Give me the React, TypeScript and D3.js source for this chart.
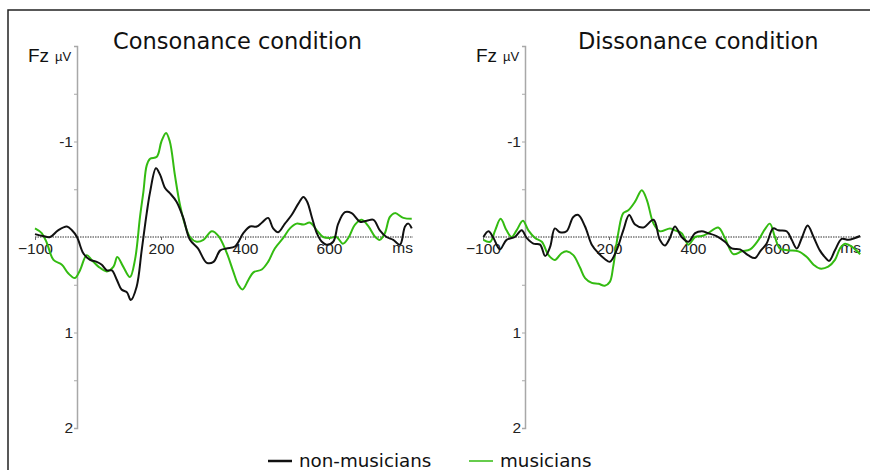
import { useEffect, useRef } from "react";
import * as d3 from "d3";

// [ms, µV] samples (negative up, as in ERP plots)
const consNonMusicians: [number, number][] = [
  [-100, -0.03], [-81, -0.01], [-64, 0], [-45, -0.07], [-24, -0.11], [-12, -0.07], [0, 0],
  [15, 0.17], [31, 0.24], [47, 0.26], [59, 0.29], [71, 0.35], [83, 0.35], [95, 0.45],
  [106, 0.55], [119, 0.58], [128, 0.66], [142, 0.52], [154, 0.14], [166, -0.25], [174, -0.47],
  [188, -0.72], [198, -0.65], [210, -0.51], [221, -0.46], [237, -0.37], [253, -0.2], [269, 0.03],
  [288, 0.12], [309, 0.27], [325, 0.26], [341, 0.14], [356, 0.12], [376, 0.1], [396, -0.04],
  [412, -0.11], [428, -0.11], [440, -0.15], [455, -0.2], [467, -0.09], [479, -0.05], [495, -0.14],
  [511, -0.23], [527, -0.35], [539, -0.42], [548, -0.37], [559, -0.21], [571, -0.04], [583, 0.05],
  [594, 0.08], [610, 0.05], [622, -0.14], [638, -0.26], [654, -0.25], [674, -0.16], [690, -0.17],
  [706, -0.18], [721, -0.07], [737, 0], [753, 0.03], [769, 0.08], [781, -0.11], [789, -0.14], [797, -0.09],
];

const consMusicians: [number, number][] = [
  [-100, -0.09], [-84, -0.04], [-72, 0.06], [-56, 0.24], [-36, 0.29], [-21, 0.38], [-5, 0.43],
  [7, 0.35], [23, 0.19], [35, 0.24], [51, 0.31], [71, 0.36], [87, 0.31], [96, 0.21], [110, 0.31],
  [126, 0.42], [138, 0.24], [150, -0.21], [158, -0.47], [166, -0.75], [174, -0.82], [190, -0.84],
  [201, -1.0], [212, -1.09], [221, -1.0], [233, -0.65], [245, -0.34], [257, -0.13], [269, 0],
  [285, 0.05], [301, 0.03], [321, -0.06], [337, -0.01], [356, 0.16], [372, 0.36], [384, 0.5],
  [394, 0.55], [408, 0.45], [420, 0.37], [440, 0.34], [455, 0.26], [471, 0.12], [491, 0.01],
  [507, -0.09], [523, -0.14], [539, -0.13], [555, -0.15], [571, -0.07], [586, 0], [602, 0.01],
  [618, 0], [633, 0.07], [646, 0.01], [662, -0.13], [678, -0.18], [694, -0.11], [710, 0],
  [721, 0.03], [733, -0.04], [745, -0.21], [757, -0.25], [777, -0.2], [797, -0.19],
];

const dissNonMusicians: [number, number][] = [
  [-99, 0], [-87, -0.06], [-75, 0.01], [-60, 0.13], [-44, 0.03], [-24, 0], [-8, -0.07], [4, 0.01],
  [20, 0.07], [36, 0.08], [48, 0.2], [60, 0.1], [71, -0.09], [83, -0.05], [99, -0.06], [115, -0.21],
  [127, -0.23], [143, -0.11], [159, 0.08], [175, 0.17], [190, 0.23], [202, 0.26], [218, 0.14],
  [234, -0.07], [248, -0.23], [262, -0.13], [282, -0.1], [306, -0.18], [321, 0.03], [333, 0.09],
  [345, 0.01], [357, -0.11], [373, 0], [389, 0.05], [405, -0.04], [421, -0.06], [436, -0.04],
  [456, -0.01], [476, 0.05], [492, 0.12], [512, 0.13], [531, 0.19], [548, 0.22], [560, 0.15],
  [575, 0.07], [591, -0.09], [603, -0.07], [623, -0.06], [635, 0.03], [647, 0.12], [659, 0.01],
  [673, -0.12], [687, 0], [702, 0.14], [714, 0.21], [724, 0.25], [738, 0.14], [754, 0.02],
  [770, 0.03], [786, 0.01], [798, -0.01],
];

const dissMusicians: [number, number][] = [
  [-99, 0.03], [-83, 0.05], [-71, -0.07], [-58, -0.19], [-44, -0.07], [-32, 0], [-20, -0.07],
  [-5, -0.17], [8, -0.07], [24, 0.01], [40, 0.05], [56, 0.19], [71, 0.24], [87, 0.17], [99, 0.15],
  [115, 0.19], [131, 0.32], [143, 0.43], [159, 0.48], [175, 0.49], [190, 0.51], [202, 0.47],
  [210, 0.31], [222, -0.04], [234, -0.25], [246, -0.28], [262, -0.37], [278, -0.49], [290, -0.39],
  [306, -0.14], [321, -0.06], [345, -0.09], [357, -0.07], [373, -0.04], [389, 0.08], [405, 0],
  [421, -0.01], [436, -0.04], [460, -0.1], [476, 0.01], [496, 0.18], [516, 0.15], [536, 0.13],
  [556, 0.03], [571, -0.08], [583, -0.14], [595, 0], [607, 0.12], [627, 0.14], [651, 0.15],
  [671, 0.21], [687, 0.29], [702, 0.33], [722, 0.31], [738, 0.24], [750, 0.12], [762, 0.07],
  [778, 0.1], [798, 0.18],
];

const panels = [
  { title: "Consonance condition", non: consNonMusicians, mus: consMusicians },
  { title: "Dissonance condition", non: dissNonMusicians, mus: dissMusicians },
];

const xTicks = [-100, 200, 400, 600];
const yTicks = [-2, -1.5, -1, -0.5, 0, 0.5, 1, 1.5, 2];
const yLabels = [-1, 1, 2];
const legendItems = [
  { label: "non-musicians", color: "#111111" },
  { label: "musicians", color: "#33bb11" },
];

export default function App() {
  const svgRef = useRef<SVGSVGElement>(null);

  useEffect(() => {
    const width = 870;
    const height = 470;
    const svg = d3.select(svgRef.current);
    svg.selectAll("*").remove();
    svg.attr("width", width).attr("height", height);

    // frame
    svg.append("rect")
      .attr("x", 8).attr("y", 10)
      .attr("width", 900).attr("height", 500)
      .attr("fill", "white")
      .attr("stroke", "#222").attr("stroke-width", 1.5);

    const y = d3.scaleLinear().domain([-2, 2]).range([46, 428]);
    const axisX = [77, 525];
    const titleX = [113, 578];

    panels.forEach((p, i) => {
      const x0 = axisX[i];
      const x = d3.scaleLinear().domain([0, 800]).range([x0, x0 + 336]);
      const g = svg.append("g");

      // zero line
      g.append("line")
        .attr("x1", x(-100)).attr("x2", x(800))
        .attr("y1", y(0)).attr("y2", y(0))
        .attr("stroke", "#333").attr("stroke-width", 1)
        .attr("stroke-dasharray", "1.5,1");

      // x ticks and labels
      g.append("g")
        .attr("transform", `translate(0,${y(0)})`)
        .call(d3.axisBottom(x).tickValues(xTicks).tickSize(3).tickPadding(3))
        .call(s => s.select(".domain").remove())
        .call(s => s.selectAll("line").attr("stroke", "#666"))
        .call(s => s.selectAll("text")
          .attr("font-family", "Liberation Sans, Arial, sans-serif")
          .attr("font-size", 15.5).attr("fill", "#222"));

      g.append("text")
        .attr("x", x(800)).attr("y", y(0) + 16)
        .attr("text-anchor", "end")
        .attr("font-family", "Liberation Sans, Arial, sans-serif")
        .attr("font-size", 15.5).attr("fill", "#222")
        .text("ms");

      // y axis
      g.append("g")
        .attr("transform", `translate(${x0},0)`)
        .call(d3.axisLeft(y).tickValues(yTicks).tickSize(3).tickPadding(1)
          .tickFormat(d => (yLabels.includes(+d) ? String(d) : "")))
        .call(s => s.select(".domain").attr("stroke", "#a8a8a8").attr("stroke-width", 1.5))
        .call(s => s.selectAll("line").attr("stroke", "#a8a8a8"))
        .call(s => s.selectAll("text")
          .attr("font-family", "Liberation Sans, Arial, sans-serif")
          .attr("font-size", 15.5).attr("fill", "#222"));

      g.append("text")
        .attr("x", x0 - 49).attr("y", 62)
        .attr("font-family", "Liberation Sans, Arial, sans-serif")
        .attr("font-size", 19).attr("fill", "#111")
        .text("Fz");
      g.append("text")
        .attr("x", x0 - 22).attr("y", 61)
        .attr("font-family", "Liberation Sans, Arial, sans-serif")
        .attr("font-size", 13).attr("fill", "#111")
        .text("µV");

      g.append("text")
        .attr("x", titleX[i]).attr("y", 49)
        .attr("font-family", "DejaVu Sans, sans-serif")
        .attr("font-size", 22.5).attr("fill", "#111")
        .text(p.title);

      const line = d3.line<[number, number]>()
        .x(d => x(d[0]))
        .y(d => y(d[1]))
        .curve(d3.curveCatmullRom.alpha(0.5));

      g.append("path").datum(p.mus)
        .attr("d", line).attr("fill", "none")
        .attr("stroke", legendItems[1].color).attr("stroke-width", 2);
      g.append("path").datum(p.non)
        .attr("d", line).attr("fill", "none")
        .attr("stroke", legendItems[0].color).attr("stroke-width", 2);
    });

    // legend
    const legendX = [268, 469];
    legendItems.forEach((it, i) => {
      svg.append("line")
        .attr("x1", legendX[i]).attr("x2", legendX[i] + 24)
        .attr("y1", 461).attr("y2", 461)
        .attr("stroke", it.color).attr("stroke-width", i === 0 ? 2.5 : 1.5);
      svg.append("text")
        .attr("x", legendX[i] + 31).attr("y", 467)
        .attr("font-family", "DejaVu Sans, sans-serif")
        .attr("font-size", 18.3).attr("fill", "#111")
        .text(it.label);
    });
  }, []);

  return <svg ref={svgRef} style={{ position: "absolute", left: 0, top: 0 }} />;
}
